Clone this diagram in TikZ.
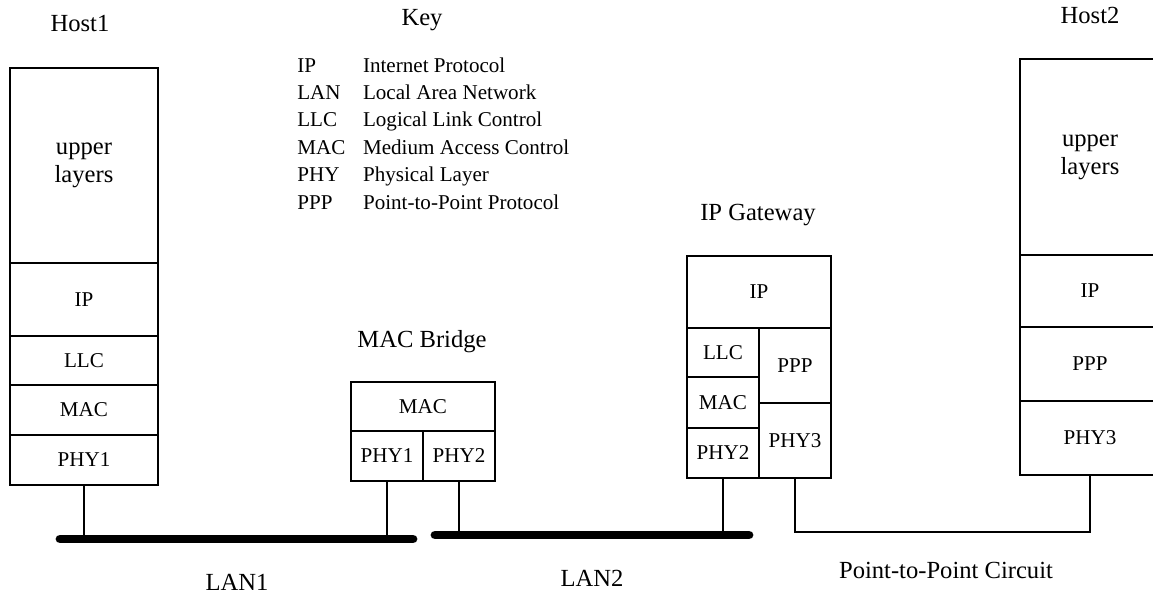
\documentclass[tikz,border=0pt]{standalone}
\usepackage{fontspec}
\setmainfont{Liberation Serif}
\usetikzlibrary{positioning}

\begin{document}
\begin{tikzpicture}[
  x=0.02cm, y=-0.02cm,
  layer/.style={draw, line width=1pt, inner sep=0pt, outer sep=0pt, align=center, font=\fontsize{12}{14}\selectfont},
  title/.style={font=\fontsize{14}{16}\selectfont, inner sep=0pt, align=center},
  wire/.style={line width=1pt},
  bus/.style={line width=5pt, line cap=round}
]
\useasboundingbox (0,0) rectangle (1153,595);

% Host1
\node[title] (h1) at (80,24) {Host1};
\node[layer, anchor=north, minimum width=2.96cm, minimum height=3.9cm, font=\fontsize{14}{16}\selectfont] (h1up) at (84,68) {upper\\layers};
\node[layer, below=0pt of h1up, minimum width=2.96cm, minimum height=1.46cm] (h1ip) {IP};
\node[layer, below=0pt of h1ip, minimum width=2.96cm, minimum height=0.98cm] (h1llc) {LLC};
\node[layer, below=0pt of h1llc, minimum width=2.96cm, minimum height=1cm] (h1mac) {MAC};
\node[layer, below=0pt of h1mac, minimum width=2.96cm, minimum height=1cm] (h1phy) {PHY1};

% key
\node[title] (key) at (422,20) {Key};
\node[anchor=base west, inner sep=0pt, font=\fontsize{12}{15.6}\selectfont] (keytab) at (297,72) {%
  \begin{tabular}[t]{@{}p{37.4pt}@{}l@{}}
  IP  & Internet Protocol\\
  LAN & Local Area Network\\
  LLC & Logical Link Control\\
  MAC & Medium Access Control\\
  PHY & Physical Layer\\
  PPP & Point-to-Point Protocol
  \end{tabular}};

% MAC bridge
\node[title] (brlbl) at (422,342) {MAC Bridge};
\node[layer, anchor=north, minimum width=2.88cm, minimum height=0.98cm] (bmac) at (423,382) {MAC};
\node[layer, anchor=north west, minimum width=1.44cm, minimum height=1cm] (bphyA) at (bmac.south west) {PHY1};
\node[layer, anchor=north east, minimum width=1.44cm, minimum height=1cm] (bphyB) at (bmac.south east) {PHY2};

% IP gateway
\node[title] (gwlbl) at (758,215) {IP Gateway};
\node[layer, anchor=north, minimum width=2.88cm, minimum height=1.44cm] (gip) at (759,256) {IP};
\node[layer, anchor=north west, minimum width=1.44cm, minimum height=0.98cm] (gllc) at (gip.south west) {LLC};
\node[layer, below=0pt of gllc, minimum width=1.44cm, minimum height=1.02cm] (gmac) {MAC};
\node[layer, below=0pt of gmac, minimum width=1.44cm, minimum height=1cm] (gphyB) {PHY2};
\node[layer, anchor=north east, minimum width=1.44cm, minimum height=1.5cm] (gppp) at (gip.south east) {PPP};
\node[layer, below=0pt of gppp, minimum width=1.44cm, minimum height=1.5cm] (gphyC) {PHY3};

% Host2
\node[title] (h2) at (1090,15) {Host2};
\node[layer, anchor=north, minimum width=2.8cm, minimum height=3.92cm, font=\fontsize{14}{16}\selectfont] (h2up) at (1090,59) {upper\\layers};
\node[layer, below=0pt of h2up, minimum width=2.8cm, minimum height=1.44cm] (h2ip) {IP};
\node[layer, below=0pt of h2ip, minimum width=2.8cm, minimum height=1.48cm] (h2ppp) {PPP};
\node[layer, below=0pt of h2ppp, minimum width=2.8cm, minimum height=1.48cm] (h2phy) {PHY3};

% links
\coordinate (lan1w) at (60,539);
\coordinate (lan1e) at (413,539);
\coordinate (lan2w) at (435,535);
\coordinate (lan2e) at (749,535);
\coordinate (ptp) at (900,532);
\draw[wire] (h1phy.south) -- (h1phy.south |- lan1w);
\draw[wire] (bphyA.south) -- (bphyA.south |- lan1w);
\draw[wire] (bphyB.south) -- (bphyB.south |- lan2w);
\draw[wire] (gphyB.south) -- (gphyB.south |- lan2w);
\draw[wire] (gphyC.south) |- (ptp) -| (h2phy.south);
\draw[bus] (lan1w) -- (lan1e);
\draw[bus] (lan2w) -- (lan2e);

\node[title] (lan1) at (237,582) {LAN1};
\node[title] (lan2) at (592,578) {LAN2};
\node[title] (ptplbl) at (946,570) {Point-to-Point Circuit};
\end{tikzpicture}
\end{document}
